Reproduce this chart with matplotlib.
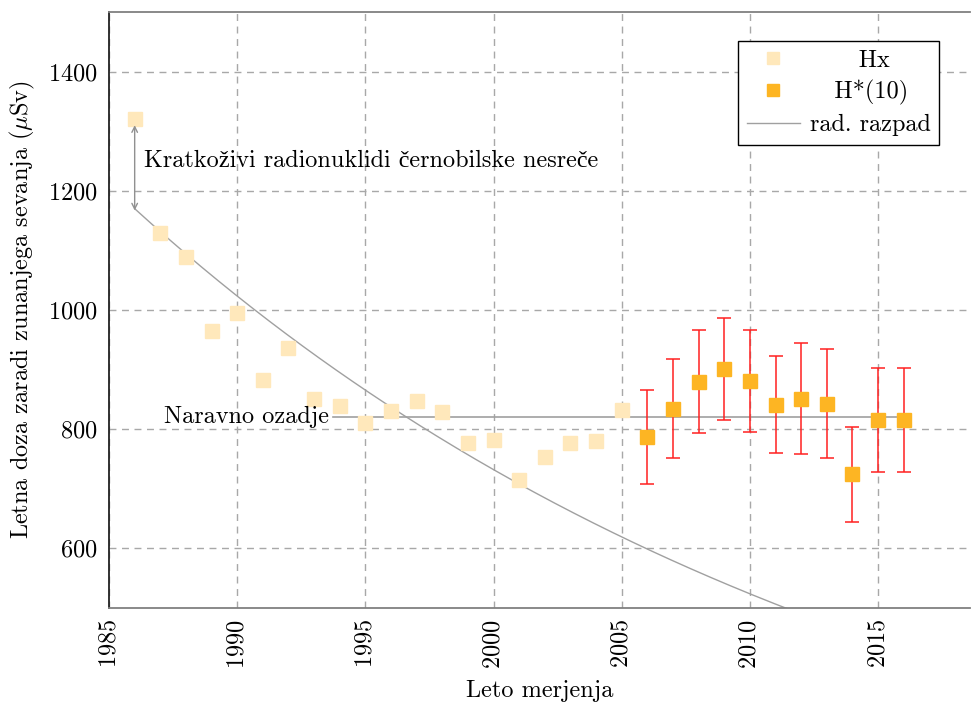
import numpy as np
import matplotlib
matplotlib.use('Agg')
import matplotlib.pyplot as plt
from matplotlib.lines import Line2D

plt.rcParams['font.family'] = ['cmr10', 'Liberation Serif', 'DejaVu Serif']
plt.rcParams['mathtext.fontset'] = 'cm'
plt.rcParams['axes.formatter.use_mathtext'] = True

# letna doza Hx (1986-2005)
hx_years = np.arange(1986, 2006)
hx_dose = [1321, 1129, 1089, 965, 995, 883, 936, 851, 839, 811,
           831, 848, 829, 776, 782, 715, 754, 777, 781, 833]

# H*(10) z negotovostjo (2006-2016)
h10_years = np.arange(2006, 2017)
h10_dose = [787, 834, 880, 901, 881, 841, 851, 843, 724, 816, 816]
h10_err = [79, 83, 86, 86, 85, 81, 93, 92, 79, 87, 87]

# radioaktivni razpad od leta 1986
decay_start = 1986
decay_dose0 = 1170
half_life = 20.7
background = 820

x_ticks = [1985, 1990, 1995, 2000, 2005, 2010, 2015]
y_ticks = [600, 800, 1000, 1200, 1400]

FS = 17.5
c_hx = '#ffe8bb'
c_h10 = '#fdb523'
c_line = '#a0a0a0'

fig = plt.figure(figsize=(9.71, 7.05), dpi=100)
ax = fig.add_axes([0.1123, 0.1376, 0.887, 0.8454])

t = np.linspace(decay_start, 2018.6, 300)
decay = decay_dose0 * 2 ** (-(t - decay_start) / half_life)

ax.plot(hx_years, hx_dose, 's', color=c_hx, ms=9.5, zorder=3)
ax.errorbar(h10_years, h10_dose, yerr=h10_err, fmt='s', color=c_h10,
            ms=10, ecolor='#ff2020', elinewidth=1.1, capsize=5, capthick=1.1,
            zorder=4)
ax.plot(t, decay, color=c_line, lw=1, zorder=2)

# naravno ozadje
ax.plot([1993.75, 2016], [background, background], color=c_line, lw=1.2, zorder=2)
ax.text(1993.6, background, 'Naravno ozadje', ha='right', va='center', fontsize=FS)

# kratkoživi radionuklidi
ax.annotate('', xy=(1986, 1310), xytext=(1986, 1167),
            arrowprops=dict(arrowstyle='<->', color='#909090', lw=1, shrinkA=0, shrinkB=0))
ax.text(1986.35, 1250, 'Kratkoživi radionuklidi černobilske nesreče',
        ha='left', va='center', fontsize=FS)

ax.set_xlim(1985, 2018.6)
ax.set_ylim(500, 1500)
ax.set_xticks(x_ticks)
ax.set_yticks(y_ticks)
ax.tick_params(axis='both', length=0, labelsize=FS, pad=8)
ax.tick_params(axis='x', rotation=90)
ax.grid(True, ls=(0, (5, 4)), color='#a8a8a8', lw=1)

ax.spines['right'].set_visible(False)
ax.spines['left'].set_color('#222222')
ax.spines['top'].set_color('#808080')
ax.spines['bottom'].set_color('#808080')
for s in ax.spines.values():
    s.set_linewidth(1.3)

ax.set_xlabel('Leto merjenja', fontsize=FS, labelpad=8)
ax.set_ylabel(r'Letna doza zaradi zunanjega sevanja ($\mu$Sv)', fontsize=FS, labelpad=8)

handles = [
    Line2D([], [], ls='none', marker='s', ms=8, color=c_hx),
    Line2D([], [], ls='none', marker='s', ms=8, color=c_h10),
    Line2D([], [], color=c_line, lw=1),
]
# krajše oznake zamaknemo s presledki, da so sredinsko poravnane
labels = ['      Hx', '   H*(10)', 'rad. razpad']
leg = ax.legend(handles, labels,
                loc='upper right', bbox_to_anchor=(0.964, 0.951), borderaxespad=0,
                fontsize=FS, fancybox=False, framealpha=1, edgecolor='black',
                handlelength=2.2, borderpad=0.35, labelspacing=0.35, handletextpad=0.4)
leg.get_frame().set_linewidth(1)

fig.savefig('out.png', dpi=100)
